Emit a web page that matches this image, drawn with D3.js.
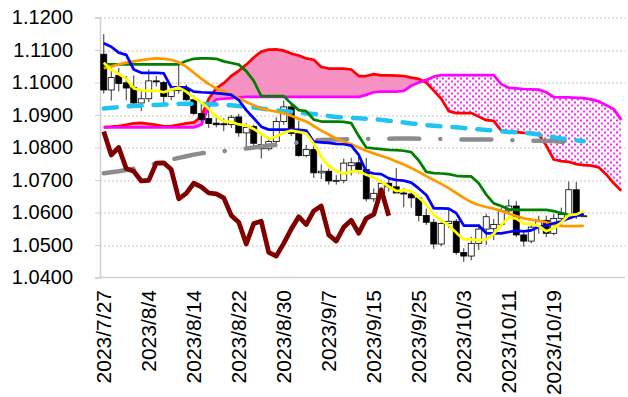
<!DOCTYPE html>
<html>
<head>
<meta charset="utf-8">
<script src="https://cdn.jsdelivr.net/npm/d3@7"></script>
<style>
  body { margin: 0; background: #fff; }
  svg { display: block; font-family: "Liberation Sans", Arial, sans-serif; }
</style>
</head>
<body>
<div id="chart"></div>
<script>
// trading days shown on the category axis (5 empty slots follow for the cloud)
const dates = ["2023/7/27","2023/7/28","2023/7/31","2023/8/1","2023/8/2","2023/8/3","2023/8/4",
  "2023/8/7","2023/8/8","2023/8/9","2023/8/10","2023/8/11","2023/8/14","2023/8/15","2023/8/16",
  "2023/8/17","2023/8/18","2023/8/21","2023/8/22","2023/8/23","2023/8/24","2023/8/25","2023/8/28",
  "2023/8/29","2023/8/30","2023/8/31","2023/9/1","2023/9/4","2023/9/5","2023/9/6","2023/9/7",
  "2023/9/8","2023/9/11","2023/9/12","2023/9/13","2023/9/14","2023/9/15","2023/9/18","2023/9/19",
  "2023/9/20","2023/9/21","2023/9/22","2023/9/25","2023/9/26","2023/9/27","2023/9/28","2023/9/29",
  "2023/10/2","2023/10/3","2023/10/4","2023/10/5","2023/10/6","2023/10/9","2023/10/10","2023/10/11",
  "2023/10/12","2023/10/13","2023/10/16","2023/10/17","2023/10/18","2023/10/19","2023/10/20",
  "2023/10/23","2023/10/24","2023/10/25"];
const nCats = 70;
const labelEvery = 6;

// candles
const open  = [1.1087,1.0977,1.1022,1.0999,1.0985,1.0937,1.0950,1.1005,1.1000,1.0957,1.0975,1.0981,1.0947,1.0905,1.0889,1.0875,1.0873,1.0871,1.0894,1.0845,1.0864,1.0809,1.0796,1.0818,1.0880,1.0925,1.0843,1.0775,1.0794,1.0722,1.0727,1.0697,1.0699,1.0744,1.0753,1.0732,1.0642,1.0659,1.0690,1.0679,1.0660,1.0657,1.0645,1.0591,1.0570,1.0503,1.0566,1.0573,1.0477,1.0466,1.0505,1.0549,1.0550,1.0563,1.0605,1.0620,1.0531,1.0512,1.0555,1.0576,1.0536,1.0582,1.0594,1.0670,1.0590];
const high  = [1.1149,1.1043,1.1045,1.1020,1.1022,1.0975,1.1040,1.1020,1.1005,1.0993,1.1064,1.0994,1.0960,1.0937,1.0917,1.0895,1.0890,1.0900,1.0903,1.0875,1.0870,1.0837,1.0826,1.0893,1.0945,1.0930,1.0882,1.0808,1.0805,1.0748,1.0735,1.0715,1.0766,1.0768,1.0775,1.0768,1.0674,1.0700,1.0700,1.0737,1.0675,1.0670,1.0650,1.0612,1.0580,1.0575,1.0608,1.0580,1.0490,1.0525,1.0564,1.0596,1.0580,1.0615,1.0640,1.0635,1.0537,1.0560,1.0590,1.0590,1.0596,1.0615,1.0695,1.0694,1.0592];
const low   = [1.0966,1.0944,1.0972,1.0945,1.0930,1.0912,1.0940,1.0988,1.0930,1.0946,1.0966,1.0943,1.0900,1.0880,1.0860,1.0862,1.0850,1.0860,1.0833,1.0802,1.0806,1.0766,1.0790,1.0812,1.0870,1.0835,1.0771,1.0770,1.0706,1.0703,1.0686,1.0686,1.0690,1.0714,1.0720,1.0634,1.0632,1.0650,1.0665,1.0662,1.0616,1.0615,1.0573,1.0562,1.0488,1.0496,1.0552,1.0470,1.0448,1.0453,1.0485,1.0500,1.0515,1.0556,1.0592,1.0525,1.0495,1.0505,1.0535,1.0524,1.0530,1.0560,1.0590,1.0580,1.0589];
const close = [1.0977,1.1015,1.0997,1.0983,1.0937,1.0950,1.1005,1.1002,1.0957,1.0975,1.0981,1.0947,1.0905,1.0886,1.0874,1.0870,1.0871,1.0893,1.0845,1.0862,1.0813,1.0796,1.0818,1.0880,1.0925,1.0843,1.0775,1.0794,1.0722,1.0727,1.0697,1.0699,1.0752,1.0753,1.0732,1.0642,1.0659,1.0690,1.0679,1.0660,1.0657,1.0645,1.0591,1.0570,1.0503,1.0566,1.0573,1.0477,1.0466,1.0505,1.0549,1.0587,1.0563,1.0605,1.0620,1.0531,1.0512,1.0555,1.0576,1.0536,1.0582,1.0594,1.0670,1.0590,1.0590];

// blue
const tenkan = [1.1121,1.1110,1.1092,1.1085,1.1040,1.1030,1.1030,1.1030,1.1028,1.0985,1.0985,1.0985,1.0972,1.0970,1.0969,1.0967,1.0965,1.0962,1.0946,1.0915,1.0890,1.0864,1.0855,1.0855,1.0855,1.0855,1.0854,1.0852,1.0818,1.0816,1.0814,1.0811,1.0810,1.0806,1.0777,1.0726,1.0720,1.0718,1.0705,1.0700,1.0698,1.0692,1.0674,1.0654,1.0613,1.0613,1.0612,1.0598,1.0560,1.0560,1.0560,1.0536,1.0536,1.0536,1.0540,1.0544,1.0542,1.0545,1.0556,1.0560,1.0567,1.0572,1.0582,1.0590,1.0595];
// green
const kijun = [1.1056,1.1056,1.1056,1.1056,1.1056,1.1056,1.1056,1.1056,1.1056,1.1056,1.1056,1.1066,1.1073,1.1074,1.1074,1.1073,1.1065,1.1060,1.1055,1.1035,1.1005,1.0958,1.0958,1.0958,1.0958,1.0935,1.0915,1.0912,1.0886,1.0880,1.0880,1.0880,1.0879,1.0875,1.0835,1.0800,1.0797,1.0795,1.0793,1.0792,1.0790,1.0786,1.0760,1.0725,1.0721,1.0720,1.0718,1.0713,1.0711,1.0711,1.0690,1.0655,1.0628,1.0620,1.0610,1.0608,1.0608,1.0608,1.0608,1.0608,1.0604,1.0598,1.0593,1.0592,1.0592];
// red (leading span 1)
const spanA = [1.0863,1.0864,1.0866,1.0870,1.0874,1.0876,1.0873,1.0870,1.0865,1.0866,1.0870,1.0874,1.0877,1.0895,1.0950,1.0982,1.0998,1.1020,1.1036,1.1055,1.1077,1.1095,1.1101,1.1102,1.1098,1.1089,1.1083,1.1074,1.1070,1.1048,1.1043,1.1043,1.1043,1.1040,1.1020,1.1020,1.1026,1.1022,1.1022,1.1021,1.1020,1.1015,1.1011,1.1000,1.0975,1.0950,1.0912,1.0906,1.0906,1.0906,1.0895,1.0884,1.0882,1.0852,1.0848,1.0847,1.0845,1.0844,1.0840,1.0806,1.0763,1.0758,1.0756,1.0749,1.0746,1.0744,1.0739,1.0717,1.0690,1.0667];
// magenta (leading span 2)
const spanB = [1.0862,1.0862,1.0862,1.0862,1.0862,1.0862,1.0862,1.0862,1.0862,1.0862,1.0862,1.0862,1.0862,1.0870,1.0925,1.0948,1.0950,1.0952,1.0954,1.0956,1.0956,1.0956,1.0956,1.0956,1.0956,1.0956,1.0956,1.0956,1.0956,1.0956,1.0956,1.0956,1.0956,1.0956,1.0956,1.0962,1.0970,1.0972,1.0972,1.0972,1.0974,1.0990,1.1000,1.1008,1.1018,1.1023,1.1023,1.1023,1.1023,1.1023,1.1023,1.1023,1.1023,1.0995,1.0984,1.0982,1.0980,1.0979,1.0978,1.0970,1.0955,1.0954,1.0954,1.0953,1.0952,1.0948,1.0942,1.0930,1.0918,1.0885];
// dark red lagging line
const chikou = [1.0849,1.0777,1.0800,1.0735,1.0727,1.0697,1.0699,1.0752,1.0753,1.0732,1.0642,1.0659,1.0690,1.0679,1.0660,1.0657,1.0645,1.0591,1.0570,1.0503,1.0566,1.0573,1.0477,1.0466,1.0505,1.0549,1.0587,1.0563,1.0605,1.0620,1.0531,1.0512,1.0555,1.0576,1.0536,1.0582,1.0594,1.0670,1.0590];
// yellow
const maYellow = [1.1061,1.1039,1.1026,1.1012,1.0982,1.0976,1.0974,1.0975,1.0970,1.0978,1.0984,1.0972,1.0953,1.0939,1.0919,1.0896,1.0881,1.0879,1.0871,1.0868,1.0857,1.0842,1.0827,1.0834,1.0846,1.0852,1.0848,1.0843,1.0812,1.0772,1.0743,1.0728,1.0719,1.0726,1.0727,1.0716,1.0708,1.0695,1.0680,1.0666,1.0669,1.0666,1.0646,1.0625,1.0593,1.0575,1.0561,1.0538,1.0517,1.0517,1.0514,1.0517,1.0534,1.0562,1.0585,1.0581,1.0566,1.0565,1.0559,1.0542,1.0552,1.0569,1.0592,1.0594,1.0605];
// orange
const maOrange = [1.1044,1.1049,1.1056,1.1061,1.1065,1.1069,1.1072,1.1074,1.1073,1.1070,1.1062,1.1049,1.1030,1.1012,1.0995,1.0982,1.0972,1.0963,1.0952,1.0940,1.0930,1.0920,1.0915,1.0910,1.0905,1.0898,1.0888,1.0880,1.0866,1.0852,1.0840,1.0827,1.0818,1.0810,1.0800,1.0790,1.0782,1.0774,1.0767,1.0757,1.0748,1.0737,1.0725,1.0712,1.0700,1.0688,1.0675,1.0660,1.0645,1.0632,1.0623,1.0617,1.0612,1.0605,1.0597,1.0589,1.0582,1.0578,1.0574,1.0570,1.0563,1.0559,1.0558,1.0558,1.0559];
// cyan dashed
const maCyan = [1.0920,1.0922,1.0924,1.0926,1.0928,1.0929,1.0930,1.0931,1.0932,1.0933,1.0934,1.0935,1.0935,1.0934,1.0933,1.0932,1.0931,1.0930,1.0928,1.0926,1.0923,1.0920,1.0917,1.0914,1.0912,1.0910,1.0907,1.0905,1.0903,1.0900,1.0897,1.0894,1.0893,1.0891,1.0890,1.0888,1.0887,1.0885,1.0882,1.0880,1.0877,1.0874,1.0872,1.0869,1.0867,1.0865,1.0864,1.0862,1.0860,1.0858,1.0856,1.0854,1.0852,1.0850,1.0848,1.0847,1.0846,1.0843,1.0840,1.0836,1.0832,1.0828,1.0825,1.0822,1.0819];
// grey dash-dot
const maGray = [1.0721,1.0724,1.0727,1.0731,1.0735,1.0740,1.0745,1.0751,1.0757,1.0763,1.0768,1.0773,1.0778,1.0782,1.0785,1.0787,1.0789,1.0791,1.0794,1.0797,1.0800,1.0803,1.0806,1.0808,1.0811,1.0813,1.0816,1.0819,1.0822,1.0823,1.0824,1.0825,1.0825,1.0826,1.0826,1.0826,1.0827,1.0827,1.0827,1.0828,1.0828,1.0828,1.0827,1.0827,1.0827,1.0826,1.0826,1.0825,1.0825,1.0825,1.0825,1.0825,1.0824,1.0824,1.0823,1.0822,1.0822,1.0821,1.0821,1.0820,1.0820,1.0818,1.0816,1.0814,1.0812];

const yTicks = [1.04, 1.05, 1.06, 1.07, 1.08, 1.09, 1.10, 1.11, 1.12];

// dimensions
const margin = {top: 17.5, right: 3, bottom: 119.5, left: 100},
    width = 628 - margin.left - margin.right,
    height = 397 - margin.top - margin.bottom;

const svg = d3.select("#chart")
  .append("svg")
    .attr("width", 628)
    .attr("height", 397);

const defs = svg.append("defs");

const g = svg.append("g")
    .attr("transform", `translate(${margin.left},${margin.top})`);

const x = d3.scaleBand()
  .domain(d3.range(nCats))
  .range([0, 525]);
const cx = i => x(i) + x.bandwidth() / 2;

const y = d3.scaleLinear()
  .domain([1.04, 1.12])
  .range([height, 0]);

// gridlines
g.append("g")
  .selectAll("line")
  .data(yTicks.filter(d => d > 1.04))
  .join("line")
    .attr("x1", 0)
    .attr("x2", width)
    .attr("y1", d => Math.round(y(d)) + 0.5)
    .attr("y2", d => Math.round(y(d)) + 0.5)
    .attr("stroke", "#c4c4c4")
    .attr("stroke-dasharray", "2,2");

// y axis
const yAxis = g.append("g")
  .call(d3.axisLeft(y).tickValues(yTicks).tickFormat(d3.format(".4f")).tickSize(5).tickPadding(22));
yAxis.select(".domain").attr("stroke", "#d0d0d0").attr("stroke-width", 1.5);
yAxis.selectAll(".tick line").attr("stroke", "#d0d0d0");
yAxis.selectAll("text").attr("font-size", 20).attr("fill", "#000")
  .attr("font-family", "'Liberation Sans', Arial, sans-serif");

// x axis line
g.append("line")
  .attr("x1", 0).attr("x2", width)
  .attr("y1", height).attr("y2", height)
  .attr("stroke", "#d0d0d0").attr("stroke-width", 1.5);

// category labels
g.append("g")
  .selectAll("text")
  .data(dates.map((d, i) => ({d, i})).filter(o => o.i % labelEvery === 0))
  .join("text")
    .attr("transform", o => `translate(${cx(o.i)},${height + 12.5}) rotate(-90)`)
    .attr("dy", "0.35em")
    .attr("text-anchor", "end")
    .attr("font-size", 21)
    .attr("fill", "#000")
    .text(o => o.d);

// cloud: pink where span 1 is above span 2, dotted magenta where below
const cloud = d3.range(nCats).map(i => ({i, a: spanA[i], b: spanB[i]}));

const dots = defs.append("pattern")
  .attr("id", "dots")
  .attr("patternUnits", "userSpaceOnUse")
  .attr("width", 6).attr("height", 6);
dots.append("rect").attr("width", 6).attr("height", 6).attr("fill", "#fff");
dots.append("circle").attr("cx", 1).attr("cy", 1).attr("r", 1.1).attr("fill", "#ff00ff");
dots.append("circle").attr("cx", 4).attr("cy", 4).attr("r", 1.1).attr("fill", "#ff00ff");

defs.append("clipPath").attr("id", "clip-up")
  .append("path")
  .attr("d", d3.area().x(d => cx(d.i)).y0(0).y1(d => y(d.b))(cloud));
defs.append("clipPath").attr("id", "clip-down")
  .append("path")
  .attr("d", d3.area().x(d => cx(d.i)).y0(height).y1(d => y(d.b))(cloud));

const band = d3.area().x(d => cx(d.i)).y0(d => y(d.a)).y1(d => y(d.b));
g.append("path")
  .attr("d", band(cloud))
  .attr("fill", "#f592c3")
  .attr("clip-path", "url(#clip-up)");
g.append("path")
  .attr("d", band(cloud))
  .attr("fill", "url(#dots)")
  .attr("clip-path", "url(#clip-down)");

// line helper
const line = d3.line().x((d, i) => cx(i)).y(d => y(d));
function drawLine(data, color, w, dash) {
  const p = g.append("path")
    .attr("d", line(data))
    .attr("fill", "none")
    .attr("stroke", color)
    .attr("stroke-width", w)
    .attr("stroke-linejoin", "round");
  if (dash) p.attr("stroke-dasharray", dash).attr("stroke-linecap", "round");
  return p;
}

drawLine(spanA, "#ff0000", 2.75);
drawLine(spanB, "#ff00ff", 2.75);

// candles
const candles = g.append("g")
  .selectAll("g")
  .data(close.map((c, i) => ({i, o: open[i], h: high[i], l: low[i], c})))
  .join("g");
candles.append("line")
    .attr("x1", d => cx(d.i)).attr("x2", d => cx(d.i))
    .attr("y1", d => y(d.h)).attr("y2", d => y(d.l))
    .attr("stroke", "#333").attr("stroke-width", 1);
candles.append("rect")
    .attr("x", d => cx(d.i) - 3)
    .attr("width", 6)
    .attr("y", d => y(Math.max(d.o, d.c)))
    .attr("height", d => Math.max(1, Math.abs(y(d.o) - y(d.c))))
    .attr("fill", d => d.c < d.o ? "#000" : "#fff")
    .attr("stroke", "#000")
    .attr("stroke-width", 0.8);

drawLine(maGray, "#8c8c8c", 4.5, "30 21 0.1 21");
drawLine(maCyan, "#1fc4f0", 4.5, "13 12");
drawLine(kijun, "#008000", 2.75);
drawLine(maOrange, "#ff9900", 2.75);
drawLine(tenkan, "#0000ff", 2.75);
drawLine(maYellow, "#ffff00", 2.75);
drawLine(chikou, "#800000", 4.75);
</script>
</body>
</html>
